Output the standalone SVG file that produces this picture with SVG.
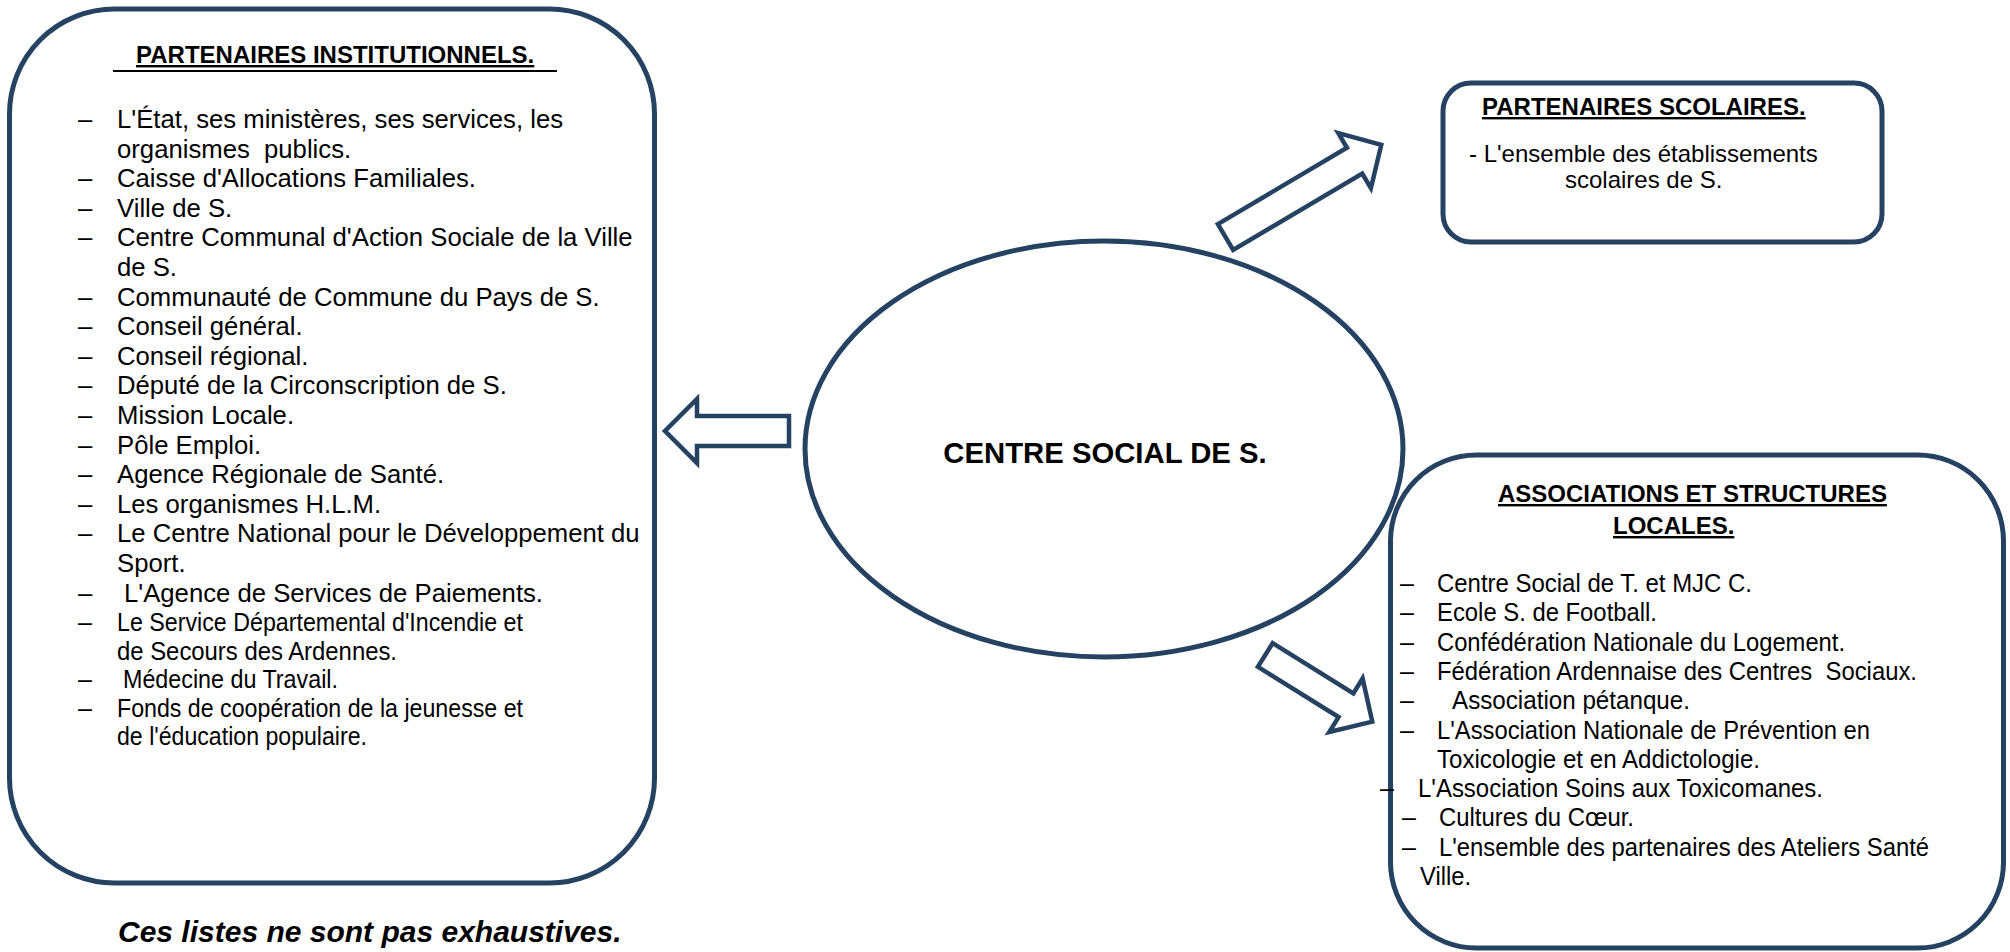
<svg xmlns="http://www.w3.org/2000/svg" width="2010" height="952" viewBox="0 0 2010 952">
<style>
.box{fill:none;stroke:#264263;stroke-width:5}
.arrow{fill:#ffffff;stroke:#264263;stroke-width:4.5;stroke-linejoin:miter}
text{font-family:"Liberation Sans",Arial,sans-serif;fill:#000000}
.ttl{font-size:24px;font-weight:bold;text-decoration:underline}
.li{font-size:25.7px}
.la{font-size:25px}
.ls{font-size:24px}
.ctr{font-size:29.3px;font-weight:bold}
.note{font-size:30px;font-weight:bold;font-style:italic}
</style>
<rect width="2010" height="952" fill="#ffffff"/>

<g id="connectors">
  <polygon id="arrow-institutionnels" class="arrow" points="789,416 697,416 697,399 665,431 697,463 697,446 789,446"/>
  <polygon id="arrow-scolaires" class="arrow" transform="translate(1225.5,237) rotate(-30.6)" points="0,-15 150,-15 150,-32 181,0 150,32 150,15 0,15"/>
  <polygon id="arrow-associations" class="arrow" transform="translate(1265.3,655) rotate(31.9)" points="0,-14 95,-14 95,-31.5 126,0 95,31.5 95,14 0,14"/>
</g>

<g id="node-institutionnels">
  <rect class="box" x="9.5" y="9" width="645" height="874" rx="105" ry="105"/>
  <text class="ttl" x="136" y="63">PARTENAIRES INSTITUTIONNELS.</text>
  <line x1="113" y1="71" x2="557" y2="71" stroke="#000" stroke-width="2"/>
  <g class="li">
    <text x="78" y="128">–</text><text x="117" y="128">L'État, ses ministères, ses services, les</text>
    <text x="117" y="157.6">organismes&#160; publics.</text>
    <text x="78" y="187.2">–</text><text x="117" y="187.2">Caisse d'Allocations Familiales.</text>
    <text x="78" y="216.8">–</text><text x="117" y="216.8">Ville de S.</text>
    <text x="78" y="246.4">–</text><text x="117" y="246.4">Centre Communal d'Action Sociale de la Ville</text>
    <text x="117" y="276">de S.</text>
    <text x="78" y="305.6">–</text><text x="117" y="305.6">Communauté de Commune du Pays de S.</text>
    <text x="78" y="335.2">–</text><text x="117" y="335.2">Conseil général.</text>
    <text x="78" y="364.8">–</text><text x="117" y="364.8">Conseil régional.</text>
    <text x="78" y="394.4">–</text><text x="117" y="394.4">Député de la Circonscription de S.</text>
    <text x="78" y="424">–</text><text x="117" y="424">Mission Locale.</text>
    <text x="78" y="453.6">–</text><text x="117" y="453.6">Pôle Emploi.</text>
    <text x="78" y="483.2">–</text><text x="117" y="483.2">Agence Régionale de Santé.</text>
    <text x="78" y="512.8">–</text><text x="117" y="512.8">Les organismes H.L.M.</text>
    <text x="78" y="542.4">–</text><text x="117" y="542.4">Le Centre National pour le Développement du</text>
    <text x="117" y="572">Sport.</text>
    <text x="78" y="601.6">–</text><text x="124" y="601.6">L'Agence de Services de Paiements.</text>
  </g>
  <g class="la">
    <text x="78" y="631">–</text><text x="117" y="631" textLength="406" lengthAdjust="spacingAndGlyphs">Le Service Départemental d'Incendie et</text>
    <text x="117" y="660" textLength="280" lengthAdjust="spacingAndGlyphs">de Secours des Ardennes.</text>
    <text x="78" y="688">–</text><text x="123" y="688" textLength="215" lengthAdjust="spacingAndGlyphs">Médecine du Travail.</text>
    <text x="78" y="717">–</text><text x="117" y="717" textLength="406" lengthAdjust="spacingAndGlyphs">Fonds de coopération de la jeunesse et</text>
    <text x="117" y="745" textLength="250" lengthAdjust="spacingAndGlyphs">de l'éducation populaire.</text>
  </g>
</g>

<g id="node-centre">
  <ellipse class="box" cx="1104" cy="449" rx="299" ry="208"/>
  <text class="ctr" x="1105" y="463" text-anchor="middle">CENTRE SOCIAL DE S.</text>
</g>

<g id="node-scolaires">
  <rect class="box" x="1443" y="83" width="439" height="159" rx="28" ry="28"/>
  <text class="ttl" x="1482" y="115">PARTENAIRES SCOLAIRES.</text>
  <text class="ls" x="1469" y="162">- L'ensemble des établissements</text>
  <text class="ls" x="1565" y="188">scolaires de S.</text>
</g>

<g id="node-associations">
  <rect class="box" x="1390.5" y="455" width="613" height="493" rx="86" ry="86"/>
  <text class="ttl" x="1498" y="502">ASSOCIATIONS ET STRUCTURES</text>
  <text class="ttl" x="1613" y="534">LOCALES.</text>
  <g class="la">
    <text x="1400" y="592">–</text><text x="1437" y="592" textLength="315" lengthAdjust="spacingAndGlyphs">Centre Social de T. et MJC C.</text>
    <text x="1400" y="621.3">–</text><text x="1437" y="621.3" textLength="220" lengthAdjust="spacingAndGlyphs">Ecole S. de Football.</text>
    <text x="1400" y="650.6">–</text><text x="1437" y="650.6" textLength="408" lengthAdjust="spacingAndGlyphs">Confédération Nationale du Logement.</text>
    <text x="1400" y="679.9">–</text><text x="1437" y="679.9" textLength="480" lengthAdjust="spacingAndGlyphs">Fédération Ardennaise des Centres&#160; Sociaux.</text>
    <text x="1400" y="709.2">–</text><text x="1452" y="709.2" textLength="238" lengthAdjust="spacingAndGlyphs">Association pétanque.</text>
    <text x="1400" y="738.5">–</text><text x="1437" y="738.5" textLength="433" lengthAdjust="spacingAndGlyphs">L'Association Nationale de Prévention en</text>
    <text x="1437" y="767.8" textLength="323" lengthAdjust="spacingAndGlyphs">Toxicologie et en Addictologie.</text>
    <text x="1380" y="797.1">–</text><text x="1418" y="797.1" textLength="405" lengthAdjust="spacingAndGlyphs">L'Association Soins aux Toxicomanes.</text>
    <text x="1402" y="826.4">–</text><text x="1439" y="826.4" textLength="195" lengthAdjust="spacingAndGlyphs">Cultures du Cœur.</text>
    <text x="1402" y="855.7">–</text><text x="1439" y="855.7" textLength="490" lengthAdjust="spacingAndGlyphs">L'ensemble des partenaires des Ateliers Santé</text>
    <text x="1420" y="885" textLength="51" lengthAdjust="spacingAndGlyphs">Ville.</text>
  </g>
</g>

<g id="note">
  <text class="note" x="118" y="942">Ces listes ne sont pas exhaustives.</text>
</g>
</svg>
